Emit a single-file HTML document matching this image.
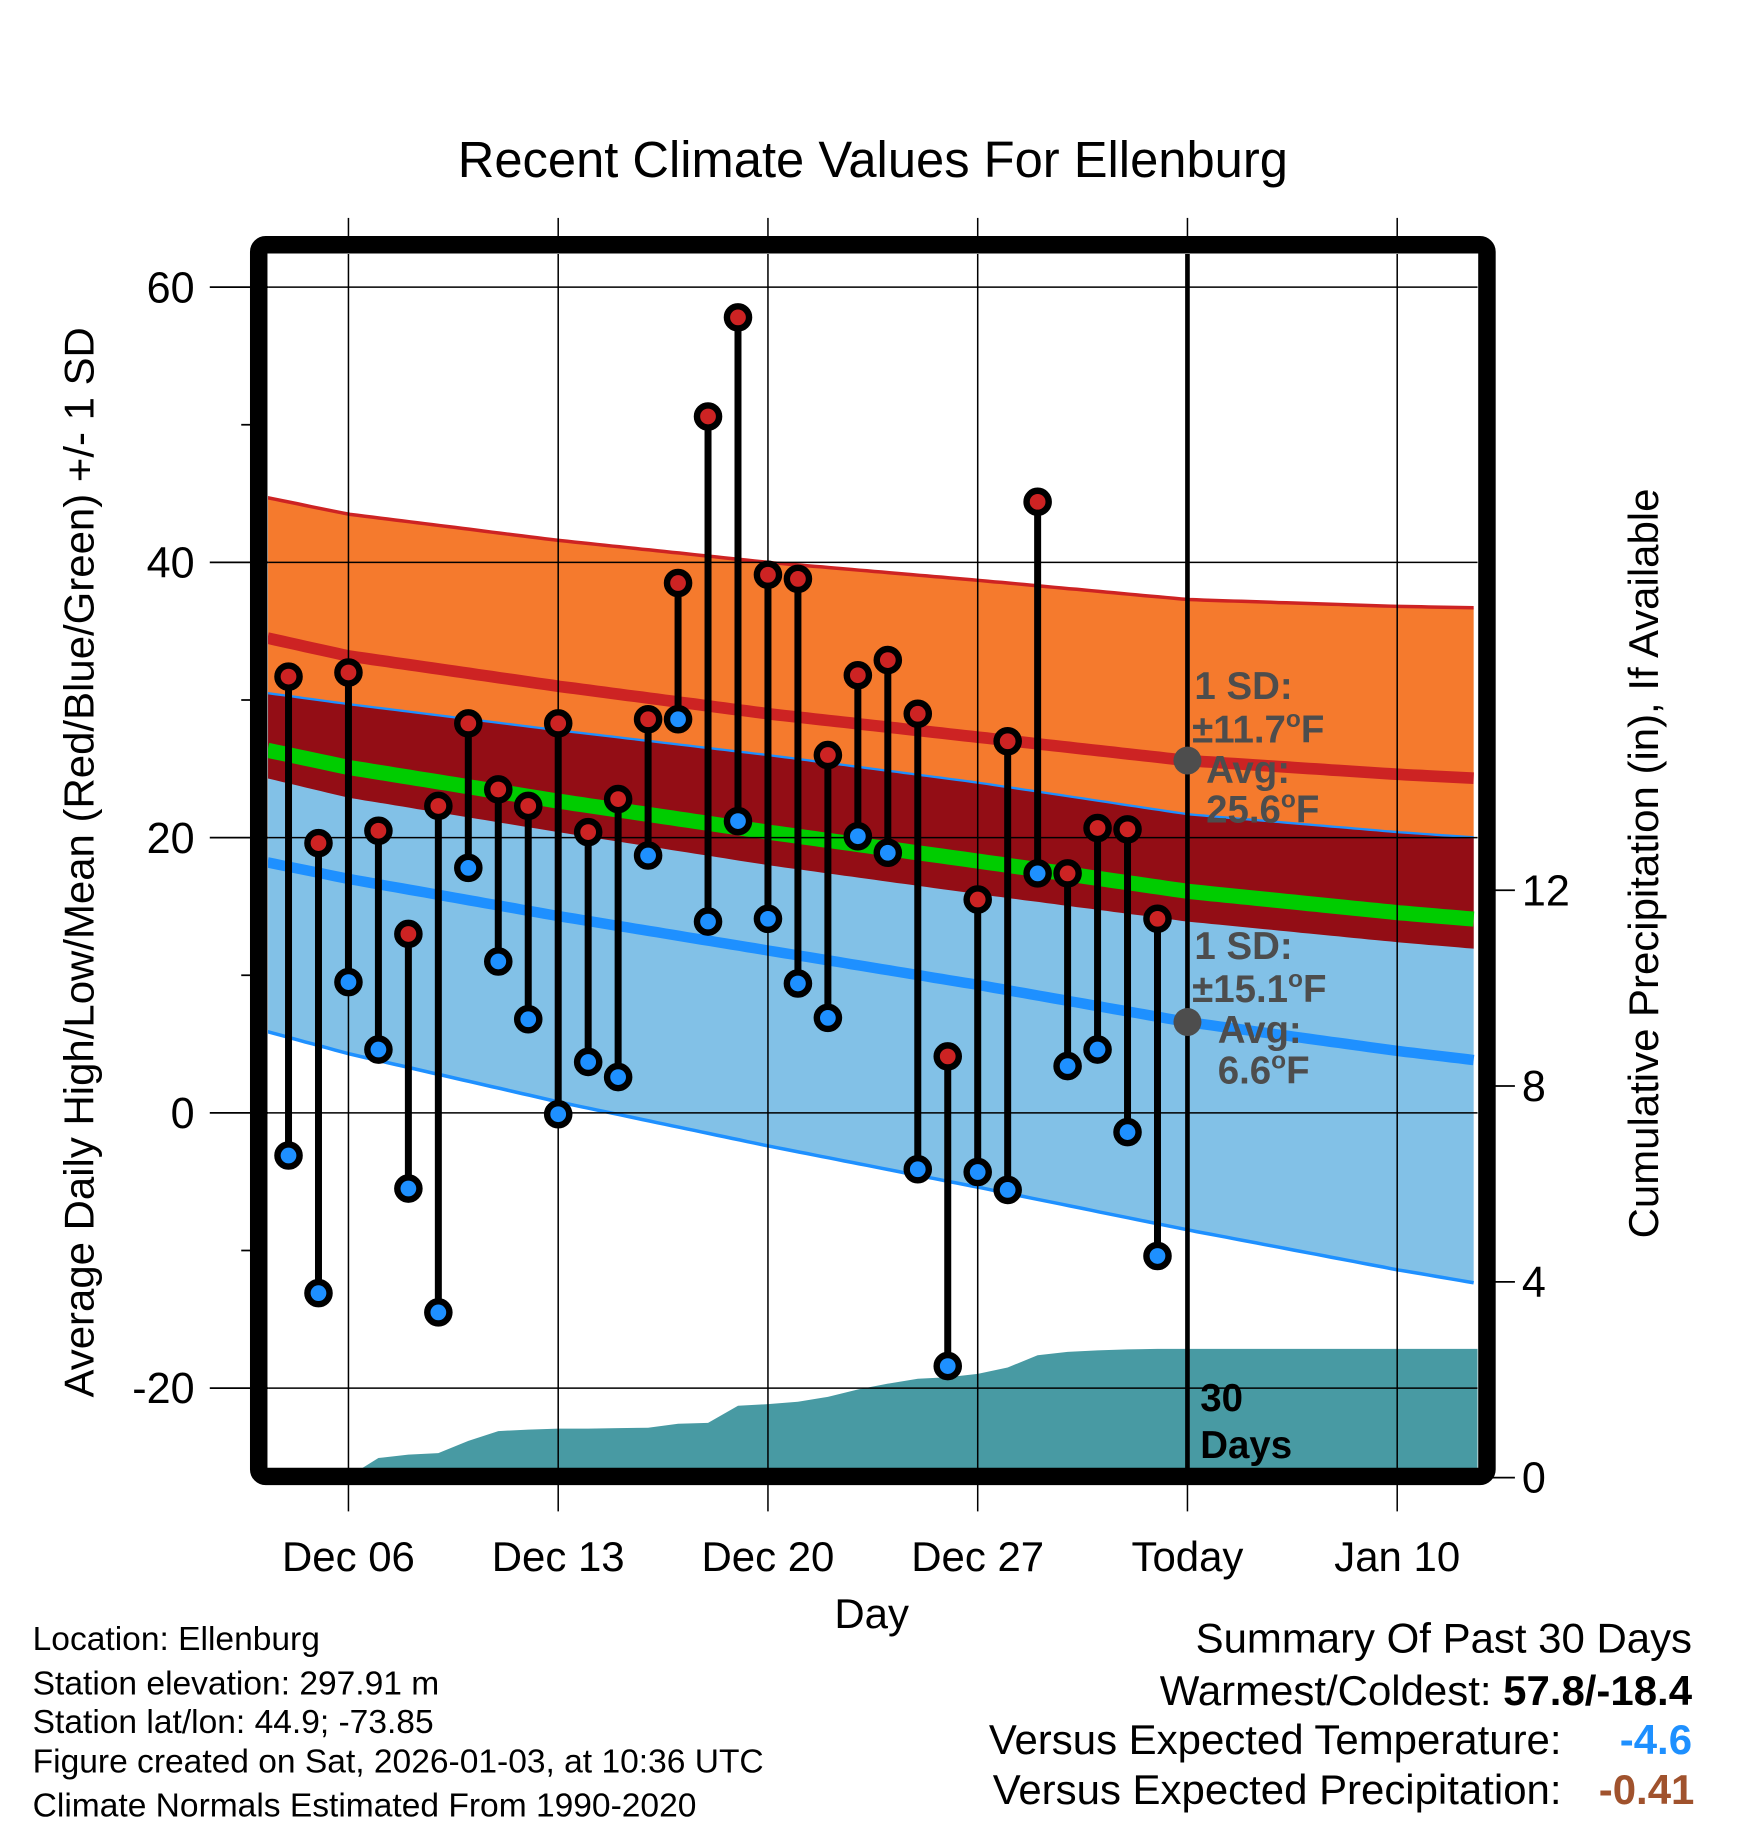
<!DOCTYPE html>
<html><head><meta charset="utf-8"><style>
html,body{margin:0;padding:0;background:#fff;}
svg{display:block;font-family:"Liberation Sans",Arial,sans-serif;}
</style></head><body>
<svg id="chart" width="1748" height="1828" viewBox="0 0 1500 1568.7" xmlns="http://www.w3.org/2000/svg">
<defs><clipPath id="plotclip"><rect x="230" y="218" width="1038" height="1042"/></clipPath></defs>
<text x="749" y="152" font-size="43.5" text-anchor="middle">Recent Climate Values For Ellenburg</text>
<g id="plot" clip-path="url(#plotclip)"></g>
<g id="axes"></g>
<text transform="translate(80,740) rotate(-90)" font-size="36" text-anchor="middle">Average Daily High/Low/Mean (Red/Blue/Green) +/- 1 SD</text>
<text transform="translate(1423,741) rotate(-90)" font-size="36" text-anchor="middle">Cumulative Precipitation (in), If Available</text>
<text x="748" y="1397" font-size="36" text-anchor="middle">Day</text>
<g font-size="28.8">
<text x="28" y="1416">Location: Ellenburg</text>
<text x="28" y="1454">Station elevation: 297.91 m</text>
<text x="28" y="1487">Station lat/lon: 44.9; -73.85</text>
<text x="28" y="1521">Figure created on Sat, 2026-01-03, at 10:36 UTC</text>
<text x="28" y="1559">Climate Normals Estimated From 1990-2020</text>
</g>
<g font-size="36">
<text x="1452" y="1418" text-anchor="end">Summary Of Past 30 Days</text>
<text x="1452" y="1463" text-anchor="end">Warmest/Coldest: <tspan font-weight="bold">57.8/-18.4</tspan></text>
<text x="1340" y="1505" text-anchor="end">Versus Expected Temperature:</text>
<text x="1452" y="1505" text-anchor="end" font-weight="bold" fill="#1e90ff">-4.6</text>
<text x="1340" y="1548" text-anchor="end">Versus Expected Precipitation:</text>
<text x="1454" y="1548" text-anchor="end" font-weight="bold" fill="#a0522d">-0.41</text>
</g>
</svg>
<script>
// Day numbers counted from Nov 30 (Dec 1 = 1, Jan 3 = 34)
const normDays = [3.3, 6, 13, 20, 27, 34, 41, 43.7];
const normHigh = [34.5, 33.2, 31.0, 29.0, 27.3, 25.6, 24.6, 24.3];
const normLow  = [18.2, 17.0, 14.3, 11.8, 9.3, 6.6, 4.5, 3.8];
const highSD   = [10.2, 10.3, 10.6, 11.0, 11.4, 11.7, 12.2, 12.4];
const lowSD    = [12.3, 12.7, 13.5, 14.2, 14.7, 15.1, 15.9, 16.2];
const obsDays  = [4,5,6,7,8,9,10,11,12,13,14,15,16,17,18,19,20,21,22,23,24,25,26,27,28,29,30,31,32,33];
const highs = [31.7,19.6,32.0,20.5,13.0,22.3,28.3,23.5,22.3,28.3,20.4,22.8,28.6,38.5,50.6,57.8,39.1,38.8,26.0,31.8,32.9,29.0,4.1,15.5,27.0,44.4,17.4,20.7,20.6,14.1];
const lows  = [-3.1,-13.1,9.5,4.6,-5.5,-14.5,17.8,11.0,6.8,-0.1,3.7,2.6,18.7,28.6,13.9,21.2,14.1,9.4,6.9,20.1,18.9,-4.1,-18.4,-4.3,-5.6,17.4,3.4,4.6,-1.4,-10.4];
const precip = [0,0,0.02,0.4,0.47,0.5,0.75,0.95,0.98,1.0,1.0,1.01,1.02,1.1,1.12,1.47,1.5,1.55,1.65,1.8,1.92,2.02,2.05,2.12,2.25,2.5,2.57,2.6,2.62,2.63];
const xTickDays = [6,13,20,27,34,41];
const xTickLabels = ["Dec 06","Dec 13","Dec 20","Dec 27","Today","Jan 10"];
const yTicks = [60,40,20,0,-20];
const yMinor = [50,30,10,-10];
const pTicks = [0,4,8,12];
const todayDay = 34;

const NS="http://www.w3.org/2000/svg";
const X = d => 299 + (d-6)*25.714;
const Y = t => 955 - t*11.81;
const P = p => 1268 - p*42;
const XL=230, XR=1268, YT=218, YB=1260;
function mk(tag, attrs, parent){const e=document.createElementNS(NS,tag);for(const k in attrs)e.setAttribute(k,attrs[k]);parent.appendChild(e);return e;}
function interp(arr, d){
  for(let i=0;i<normDays.length-1;i++){
    if(d<=normDays[i+1]||i===normDays.length-2){const t=(d-normDays[i])/(normDays[i+1]-normDays[i]);return arr[i]+(arr[i+1]-arr[i])*t;}
  }
}
const plot=document.getElementById('plot'), axes=document.getElementById('axes');
const samples=[];for(let d=normDays[0]; d<=normDays[normDays.length-1]+0.001; d+=0.25) samples.push(d);
function curve(fn){return samples.map(d=>[X(d),Y(fn(d))]);}
const hiTop=curve(d=>interp(normHigh,d)+interp(highSD,d));
const hiBot=curve(d=>interp(normHigh,d)-interp(highSD,d));
const loTop=curve(d=>interp(normLow,d)+interp(lowSD,d));
const loBot=curve(d=>interp(normLow,d)-interp(lowSD,d));
const hiMid=curve(d=>interp(normHigh,d));
const loMid=curve(d=>interp(normLow,d));
const mean=curve(d=>(interp(normHigh,d)+interp(normLow,d))/2);
const pts=a=>a.map(p=>p[0].toFixed(1)+','+p[1].toFixed(1)).join(' ');
const band=(a,b)=>pts(a)+' '+pts(b.slice().reverse());

let e;
e=mk('polygon',{points:band(hiTop,hiBot),fill:'#f57a2d'},plot);


e=mk('polygon',{points:band(loTop,loBot),fill:'#82c1e7'},plot);


e=mk('polygon',{points:band(loTop,hiBot),fill:'#930d15'},plot);


const parea=[[XL,P(0)]];
obsDays.forEach((d,i)=>parea.push([X(d),P(precip[i])]));
parea.push([XR,P(precip[precip.length-1])]);parea.push([XR,P(0)]);
e=mk('polygon',{points:pts(parea),fill:'#489aa3'},plot);


e=mk('polyline',{points:pts(hiTop),fill:'none',stroke:'#cd2323','stroke-width':3},plot);


e=mk('polyline',{points:pts(loTop),fill:'none',stroke:'#1e90ff','stroke-width':2},plot);


e=mk('polyline',{points:pts(loBot),fill:'none',stroke:'#1e90ff','stroke-width':3},plot);


e=mk('polyline',{points:pts(hiMid),fill:'none',stroke:'#cd2323','stroke-width':10},plot);


e=mk('polyline',{points:pts(mean),fill:'none',stroke:'#00cc00','stroke-width':13},plot);


e=mk('polyline',{points:pts(loMid),fill:'none',stroke:'#1e90ff','stroke-width':9},plot);


yTicks.forEach(t=>{
  e=mk('line',{x1:XL,x2:XR,y1:Y(t),y2:Y(t),stroke:'#000','stroke-width':1.3},plot);
  
  
});
xTickDays.forEach(d=>{
  e=mk('line',{x1:X(d),x2:X(d),y1:YT,y2:YB,stroke:'#000','stroke-width':1.3},plot);
  
  
});
e=mk('line',{x1:X(todayDay),x2:X(todayDay),y1:YT,y2:YB,stroke:'#000','stroke-width':4},plot);


obsDays.forEach((d,i)=>{
  const x=X(d);
  e=mk('line',{x1:x,x2:x,y1:Y(highs[i]),y2:Y(lows[i]),stroke:'#000','stroke-width':6},plot);
  
  
});
obsDays.forEach((d,i)=>{
  const x=X(d);
  e=mk('circle',{cx:x,cy:Y(highs[i]),r:9.5,fill:'#cd2323',stroke:'#000','stroke-width':5.5},plot);
  
  
  e=mk('circle',{cx:x,cy:Y(lows[i]),r:9.5,fill:'#1e90ff',stroke:'#000','stroke-width':5.5},plot);
  
  
});
const tHigh=interp(normHigh,todayDay), tLow=interp(normLow,todayDay);
e=mk('circle',{cx:X(todayDay),cy:Y(tHigh),r:12,fill:'#4d4d4d'},plot);


e=mk('circle',{cx:X(todayDay),cy:Y(tLow),r:12,fill:'#4d4d4d'},plot);


function lab(x,y,html,name,fill,size){const t=mk('text',{x:x,y:y,'font-size':size||33,'font-weight':'bold',fill:fill||'#4d4d4d'},plot);t.innerHTML=html;return t;}
const deg='<tspan font-size="21" dy="-13">o</tspan><tspan dy="13">F</tspan>';
const xt=X(todayDay);
lab(xt+6,600,'1 SD:','high-sd-label');
lab(xt+4,637,'±11.7'+deg,'high-sd-value');
lab(xt+16,672,'Avg:','high-avg-label');
lab(xt+16,706,'25.6'+deg,'high-avg-value');
lab(xt+6,823,'1 SD:','low-sd-label');
lab(xt+4,860,'±15.1'+deg,'low-sd-value');
lab(xt+26,895,'Avg:','low-avg-label');
lab(xt+26,930,'6.6'+deg,'low-avg-value');
lab(xt+11,1211,'30','days-count-label','#000',33);
lab(xt+11,1251,'Days','days-word-label','#000',33);
yTicks.forEach(t=>{
  e=mk('line',{x1:180,x2:230,y1:Y(t),y2:Y(t),stroke:'#000','stroke-width':1.5},axes);
  
  
  e=mk('text',{x:167,y:Y(t)+13,'font-size':37,'text-anchor':'end'},axes);
  e.textContent=String(t);
  
  
});
yMinor.forEach(t=>{
  e=mk('line',{x1:207,x2:222,y1:Y(t),y2:Y(t),stroke:'#000','stroke-width':1.5},axes);
  
  
});
pTicks.forEach(p=>{
  e=mk('line',{x1:1276,x2:1300,y1:P(p),y2:P(p),stroke:'#000','stroke-width':1.5},axes);
  
  
  e=mk('text',{x:1306,y:P(p)+13,'font-size':37},axes);
  e.textContent=String(p);
  
  
});
xTickDays.forEach((d,i)=>{
  e=mk('line',{x1:X(d),x2:X(d),y1:187,y2:214,stroke:'#000','stroke-width':1.3},axes);
  
  
  e=mk('line',{x1:X(d),x2:X(d),y1:1270,y2:1297,stroke:'#000','stroke-width':1.3},axes);
  
  
  e=mk('text',{x:X(d),y:1348,'font-size':36,'text-anchor':'middle'},axes);
  e.textContent=xTickLabels[i];
  
  
});
e=mk('rect',{x:222,y:210,width:1054,height:1057,rx:6,fill:'none',stroke:'#000','stroke-width':15},axes);


</script>
</body></html>
